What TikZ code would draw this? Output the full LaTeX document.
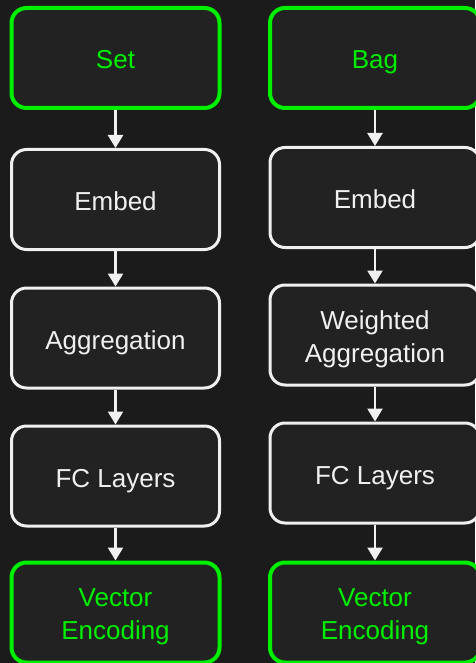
\documentclass[tikz,border=0pt]{standalone}
\usepackage{fontspec}
\setmainfont{Liberation Sans}
\usetikzlibrary{arrows.meta}
\definecolor{bgc}{HTML}{1B1B1B}
\definecolor{boxfill}{HTML}{222222}
\definecolor{neon}{HTML}{00F000}
\definecolor{wht}{HTML}{F0F0F0}
\newcommand{\twoline}[2]{\begin{tabular}[t]{@{}c@{}}#1\\#2\end{tabular}}
\tikzset{
  blk/.style={draw=wht, line width=3pt, fill=boxfill, rounded corners=15pt,
    minimum width=208pt, minimum height=100pt, text=wht,
    font=\fontsize{26}{33}\selectfont, inner sep=0pt,
    text height=22pt, text depth=0pt},
  endbox/.style={blk, draw=neon, line width=4pt, text=neon},
  twol/.style={text height=20pt, text depth=32pt},
  wide/.style={minimum width=210pt},
  conn/.style={draw=wht, line width=2.5pt, -{Triangle[width=15pt,length=13pt]}}
}
\begin{document}
\begin{tikzpicture}[x=1pt,y=-1pt]
\fill[bgc] (0,0) rectangle (475,663);
\useasboundingbox (0,0) rectangle (475,663);
% left column
\node[endbox] (set) at (115.5,58) {Set};
\node[blk] (embL) at (115.5,199.5) {Embed};
\node[blk] (aggL) at (115.5,338) {Aggregation};
\node[blk] (fcL) at (115.5,476) {FC Layers};
\node[endbox, twol] (veL) at (115.5,612.5) {\twoline{Vector}{Encoding}};
% right column
\node[endbox, wide] (bag) at (375,58) {Bag};
\node[blk, wide] (embR) at (375,197.5) {Embed};
\node[blk, wide, twol] (waR) at (375,335) {\twoline{Weighted}{Aggregation}};
\node[blk, wide] (fcR) at (375,473) {FC Layers};
\node[endbox, wide, twol] (veR) at (375,612.5) {\twoline{Vector}{Encoding}};
% connectors
\draw[conn] (set) -- (embL);
\draw[conn] (embL) -- (aggL);
\draw[conn] (aggL) -- (fcL);
\draw[conn] (fcL) -- (veL);
\draw[conn] (bag) -- (embR);
\draw[conn] (embR) -- (waR);
\draw[conn] (waR) -- (fcR);
\draw[conn] (fcR) -- (veR);
\end{tikzpicture}
\end{document}
